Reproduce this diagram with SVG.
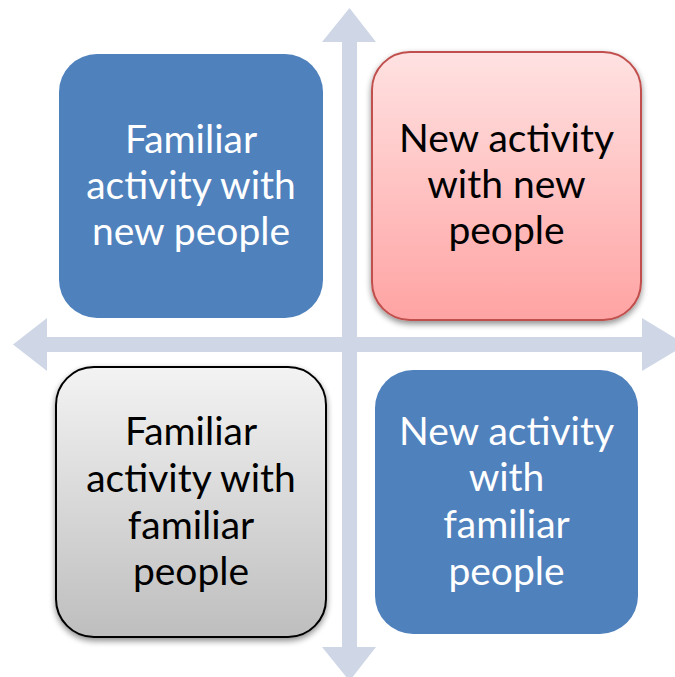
<svg xmlns="http://www.w3.org/2000/svg" width="675" height="677" viewBox="0 0 675 677">
<defs>
<linearGradient id="pink" x1="0" y1="0" x2="0" y2="1">
<stop offset="0" stop-color="#FFE2E2"/>
<stop offset="1" stop-color="#FFA3A3"/>
</linearGradient>
<linearGradient id="gray" x1="0" y1="0" x2="0" y2="1">
<stop offset="0" stop-color="#F3F3F3"/>
<stop offset="1" stop-color="#BEBEBE"/>
</linearGradient>
<filter id="sh" x="-10%" y="-10%" width="120%" height="125%">
<feGaussianBlur in="SourceAlpha" stdDeviation="3"/>
<feOffset dy="3" result="b"/>
<feComponentTransfer><feFuncA type="linear" slope="0.45"/></feComponentTransfer>
<feMerge><feMergeNode/><feMergeNode in="SourceGraphic"/></feMerge>
</filter>
</defs>
<style>
.ax{fill:#CFD7E7}
.t{font-family:Lato,"Open Sans","Liberation Sans",sans-serif;font-size:39px;text-anchor:middle}
.w{fill:#FFFFFF}
.k{fill:#000000}
</style>
<rect width="675" height="677" fill="#FFFFFF"/>
<g id="connectors">
<polygon class="ax" points="349.5,8 376,42 357,42 357,337 642,337 642,318 686,344.5 642,371 642,352 357,352 357,647 376,647 349.5,681 322,647 342,647 342,352 47,352 47,371 13,344.5 47,318 47,337 342,337 342,42 322,42"/>
</g>
<g id="node-familiar-new">
<rect x="59" y="54" width="264" height="264" rx="38" fill="#4F81BD"/>
<text class="t w" x="191" y="153">Familiar</text>
<text class="t w" x="191" y="199">activity with</text>
<text class="t w" x="191" y="245">new people</text>
</g>
<g id="node-new-new">
<rect x="372" y="52" width="269" height="268" rx="38" fill="url(#pink)" stroke="#C0504D" stroke-width="2" filter="url(#sh)"/>
<text class="t k" x="506.5" y="152">New activity</text>
<text class="t k" x="506.5" y="198">with new</text>
<text class="t k" x="506.5" y="244">people</text>
</g>
<g id="node-familiar-familiar">
<rect x="56" y="367" width="270" height="270" rx="38" fill="url(#gray)" stroke="#000000" stroke-width="2" filter="url(#sh)"/>
<text class="t k" x="191" y="445">Familiar</text>
<text class="t k" x="191" y="492">activity with</text>
<text class="t k" x="191" y="539">familiar</text>
<text class="t k" x="191" y="585">people</text>
</g>
<g id="node-new-familiar">
<rect x="375" y="370" width="263" height="264" rx="38" fill="#4F81BD"/>
<text class="t w" x="506.5" y="445">New activity</text>
<text class="t w" x="506.5" y="491">with</text>
<text class="t w" x="506.5" y="538">familiar</text>
<text class="t w" x="506.5" y="585">people</text>
</g>
</svg>
